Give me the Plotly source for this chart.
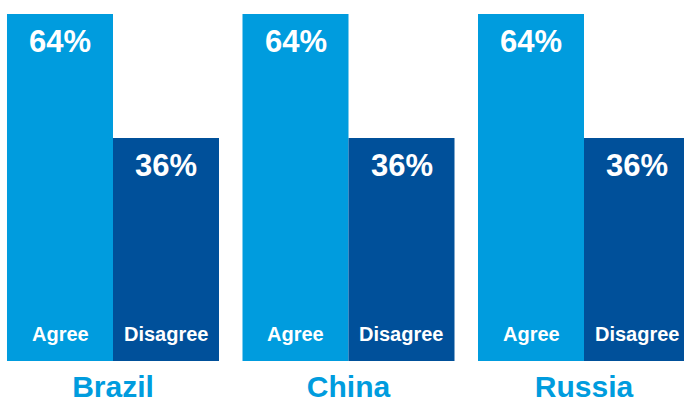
import plotly.graph_objects as go

countries = ["Brazil", "China", "Russia"]
agree = [64, 64, 64]
disagree = [36, 36, 36]
series_names = ["Agree", "Disagree"]

BASE = -14.35          # bars begin below zero to leave room for the labels
LIGHT = "#009CDE"
DARK = "#00509A"
FONT = "Liberation Sans, Arial, sans-serif"

fig = go.Figure()
for name, vals, col in [(series_names[0], agree, LIGHT), (series_names[1], disagree, DARK)]:
    fig.add_trace(go.Bar(
        x=countries, y=[v - BASE for v in vals], base=[BASE] * len(vals),
        name=name, marker=dict(color=col, line=dict(width=0)),
        hoverinfo="skip",
    ))

annotations = []
for name, vals, shift in [(series_names[0], agree, -53), (series_names[1], disagree, 53)]:
    for c, v in zip(countries, vals):
        annotations.append(dict(
            x=c, y=v, xref="x", yref="y", xshift=shift, yshift=-27,
            text=f"<b>{v}%</b>", showarrow=False, yanchor="middle",
            font=dict(family=FONT, size=31, color="white"),
        ))
        annotations.append(dict(
            x=c, y=BASE, xref="x", yref="y", xshift=shift, yshift=27,
            text=f"<b>{name}</b>", showarrow=False, yanchor="middle",
            font=dict(family=FONT, size=20, color="white"),
        ))

fig.update_layout(
    width=684, height=401,
    margin=dict(l=0, r=0, t=0, b=40, autoexpand=False),
    paper_bgcolor="white", plot_bgcolor="white",
    barmode="group", bargap=0.0998, bargroupgap=0,
    showlegend=False,
    annotations=annotations,
    xaxis=dict(
        type="category", range=[-0.4798, 2.4246], automargin=False,
        showgrid=False, zeroline=False, showline=False, ticks="",
        tickfont=dict(family=FONT, size=30, color=LIGHT),
        tickvals=countries, ticktext=[f"<b>{c}</b>" for c in countries],
        ticklabelstandoff=5,
    ),
    yaxis=dict(
        range=[BASE, 67.16], visible=False, showgrid=False, zeroline=False,
        automargin=False,
    ),
)

fig.write_html(
    "out.html",
    config={"displayModeBar": False, "staticPlot": True},
    post_script="document.body.style.margin='0';document.body.style.overflow='hidden';",
)
